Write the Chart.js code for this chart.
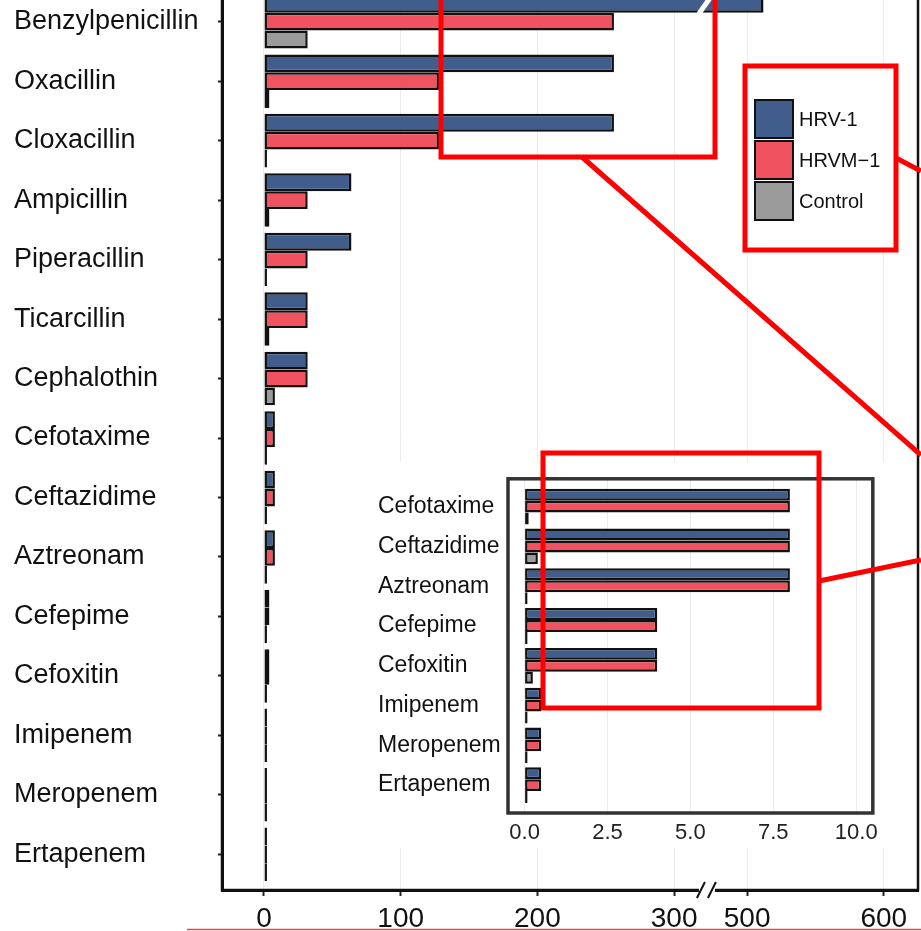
<!DOCTYPE html>
<html>
<head>
<meta charset="utf-8">
<script src="https://cdn.jsdelivr.net/npm/chart.js@4.4.1/dist/chart.umd.min.js"></script>
<style>
  html, body { margin: 0; padding: 0; background: #fff; width: 921px; height: 931px; overflow: hidden; position: relative; }
  canvas { position: absolute; }
  #main { left: 0; top: -50px; }
  #inset { left: 370px; top: 462px; }
  #overlay { left: 0; top: 0; pointer-events: none; }
</style>
</head>
<body>
<canvas id="main" width="921" height="1000"></canvas>
<canvas id="inset" width="515" height="386"></canvas>
<canvas id="overlay" width="921" height="931"></canvas>
<script>
// fold change per antibiotic, top to bottom
const drugs = ['Benzylpenicillin', 'Oxacillin', 'Cloxacillin', 'Ampicillin', 'Piperacillin', 'Ticarcillin',
  'Cephalothin', 'Cefotaxime', 'Ceftazidime', 'Aztreonam', 'Cefepime', 'Cefoxitin', 'Imipenem', 'Meropenem', 'Ertapenem'];
const hrv1 = [512, 256, 256, 64, 64, 32, 32, 8, 8, 8, 4, 4, 0.5, 0.5, 0.5];
const hrvm1 = [256, 128, 128, 32, 32, 32, 32, 8, 8, 8, 4, 4, 0.5, 0.5, 0.5];
const control = [32, 4, 1, 4, 1, 4, 8, 0.125, 0.4, 0.06, 0.06, 0.25, 0.06, 0.06, 0.06];
const xTicks = [0, 100, 200, 300, 500, 600];

// inset shows the lower rows again on a 0-10 axis
const insetFrom = 7;
const insetTicks = [0, 2.5, 5, 7.5, 10];

// broken x axis: 300..500 collapsed to a short gap
const CUT_LO = 300, CUT_HI = 500, CUT_GAP = 53.4, BREAK_AT = 324;
function fold(v) {
  return v <= CUT_LO ? v : CUT_LO + CUT_GAP + (v - CUT_HI);
}

const FONT = 'Liberation Sans, Arial, Helvetica, sans-serif';
Chart.defaults.font.family = FONT;
const colors = { hrv: '#405D8C', hrvm: '#F0525F', ctrl: '#9B9B9B' };

function series(label, vals, color, f) {
  return {
    label: label,
    data: vals.map((v, i) => ({ x: f(v), y: i })),
    backgroundColor: color,
    borderColor: '#111',
    borderWidth: 2.5,
    borderSkipped: false,
    minBarLength: 3,
    categoryPercentage: 0.9,
    barPercentage: 1
  };
}

const whiteBg = {
  id: 'whiteBg',
  beforeDraw(chart) {
    const c = chart.ctx;
    c.save();
    c.fillStyle = '#fff';
    c.fillRect(0, 0, chart.width, chart.height);
    c.restore();
  }
};

function frame(color, width) {
  return {
    id: 'frame',
    afterDraw(chart) {
      const a = chart.chartArea, c = chart.ctx;
      c.save();
      c.strokeStyle = color;
      c.lineWidth = width;
      c.strokeRect(a.left, a.top, a.right - a.left, a.bottom - a.top);
      c.restore();
    }
  };
}

const breakMarks = {
  id: 'breakMarks',
  afterDatasetsDraw(chart) {
    const c = chart.ctx;
    const xb = chart.scales.x.getPixelForValue(BREAK_AT);
    const bar = chart.getDatasetMeta(0).data[0];
    const top = bar.y - bar.height / 2, bot = bar.y + bar.height / 2;
    c.save();
    c.strokeStyle = '#fff';
    c.lineWidth = 5;
    c.beginPath();
    c.moveTo(xb - 8, bot + 1);
    c.lineTo(xb + 6, top - 1);
    c.stroke();
    c.restore();
  },
  afterDraw(chart) {
    const c = chart.ctx;
    const xb = chart.scales.x.getPixelForValue(BREAK_AT);
    const by = chart.chartArea.bottom;
    c.save();
    c.fillStyle = '#fff';
    c.fillRect(xb - 8, by - 3, 16, 6);
    c.strokeStyle = '#111';
    c.lineWidth = 2;
    c.beginPath();
    c.moveTo(xb - 10, by + 8); c.lineTo(xb - 2, by - 8);
    c.moveTo(xb + 1, by + 8); c.lineTo(xb + 9, by - 8);
    c.stroke();
    c.restore();
  }
};

const main = new Chart(document.getElementById('main'), {
  type: 'bar',
  data: {
    datasets: [
      series('HRV-1', hrv1, colors.hrv, fold),
      series('HRVM\u22121', hrvm1, colors.hrvm, fold),
      series('Control', control, colors.ctrl, fold)
    ]
  },
  options: {
    indexAxis: 'y',
    responsive: false,
    animation: false,
    layout: { padding: { left: 14, top: 36, right: 3, bottom: 0 } },
    plugins: { legend: { display: false }, tooltip: { enabled: false } },
    scales: {
      x: {
        type: 'linear',
        min: -30.7,
        max: 478.4,
        afterBuildTicks: s => { s.ticks = xTicks.map(v => ({ value: fold(v) })); },
        afterFit: s => { s.height = 60; },
        ticks: {
          callback: (v, i) => xTicks[i],
          autoSkip: false, maxRotation: 0,
          font: { size: 28 }, color: '#111', padding: 6
        },
        grid: { color: '#ebebeb', lineWidth: 1, tickColor: '#222', tickLength: 6, tickWidth: 2 },
        border: { color: '#111', width: 3 }
      },
      y: {
        type: 'linear',
        reverse: true,
        offset: false,
        min: -0.6,
        max: 14.6,
        afterBuildTicks: s => { s.ticks = drugs.map((d, i) => ({ value: i })); },
        afterFit: s => { s.width = 208; },
        ticks: {
          callback: v => drugs[v],
          autoSkip: false, crossAlign: 'far',
          font: { size: 27 }, color: '#111'
        },
        grid: { offset: false, drawOnChartArea: false, tickColor: '#222', tickLength: 4, tickWidth: 2 },
        border: { color: '#111', width: 3 }
      }
    }
  },
  plugins: [whiteBg, frame('#111', 2.5), breakMarks]
});

const insetDrugs = drugs.slice(insetFrom);
const same = v => v;
const inset = new Chart(document.getElementById('inset'), {
  type: 'bar',
  data: {
    datasets: [
      series('HRV-1', hrv1.slice(insetFrom), colors.hrv, same),
      series('HRVM\u22121', hrvm1.slice(insetFrom), colors.hrvm, same),
      series('Control', control.slice(insetFrom), colors.ctrl, same)
    ]
  },
  options: {
    indexAxis: 'y',
    responsive: false,
    animation: false,
    layout: { padding: { left: 8, top: 9, right: 8, bottom: 0 } },
    plugins: { legend: { display: false }, tooltip: { enabled: false } },
    scales: {
      x: {
        type: 'linear',
        min: -0.5,
        max: 10.5,
        afterBuildTicks: s => { s.ticks = insetTicks.map(v => ({ value: v })); },
        afterFit: s => { s.height = 35; },
        ticks: {
          callback: v => v.toFixed(1),
          autoSkip: false, maxRotation: 0,
          font: { size: 22 }, color: '#222', padding: 7
        },
        grid: { color: '#ebebeb', drawTicks: false },
        border: { display: false }
      },
      y: {
        type: 'linear',
        reverse: true,
        offset: false,
        min: -0.7,
        max: 7.7,
        afterBuildTicks: s => { s.ticks = insetDrugs.map((d, i) => ({ value: i })); },
        afterFit: s => { s.width = 130; },
        ticks: {
          callback: v => insetDrugs[v],
          autoSkip: false, crossAlign: 'far',
          font: { size: 23 }, color: '#111'
        },
        grid: { display: false, offset: false },
        border: { display: false }
      }
    }
  },
  plugins: [whiteBg, frame('#333', 3.5)]
});

// legend and red call-out boxes on top
const ov = document.getElementById('overlay').getContext('2d');
const LEG = { x: 755, y: 100, key: 38, step: 41, textX: 799 };
ov.fillStyle = '#fff';
ov.fillRect(746, 68, 149, 180);
main.data.datasets.forEach((ds, i) => {
  const y = LEG.y + i * LEG.step;
  ov.fillStyle = ds.backgroundColor;
  ov.fillRect(LEG.x, y, LEG.key, LEG.key);
  ov.lineWidth = 2;
  ov.strokeStyle = '#111';
  ov.strokeRect(LEG.x, y, LEG.key, LEG.key);
  ov.fillStyle = '#111';
  ov.font = '20px ' + FONT;
  ov.textBaseline = 'middle';
  ov.fillText(ds.label, LEG.textX, y + LEG.key / 2 + 1);
});

ov.strokeStyle = '#ff0000';
ov.lineWidth = 5;
ov.strokeRect(441, -10, 274, 167);
ov.strokeRect(745, 66, 151, 184);
ov.strokeRect(543, 453, 276, 255);
ov.beginPath();
ov.moveTo(582, 157); ov.lineTo(921, 455);
ov.moveTo(896, 158); ov.lineTo(921, 171);
ov.moveTo(819, 581); ov.lineTo(921, 560);
ov.stroke();
ov.strokeStyle = '#ff3b3b';
ov.lineWidth = 1.5;
ov.beginPath();
ov.moveTo(187, 929.5); ov.lineTo(921, 929.5);
ov.stroke();
</script>
</body>
</html>
